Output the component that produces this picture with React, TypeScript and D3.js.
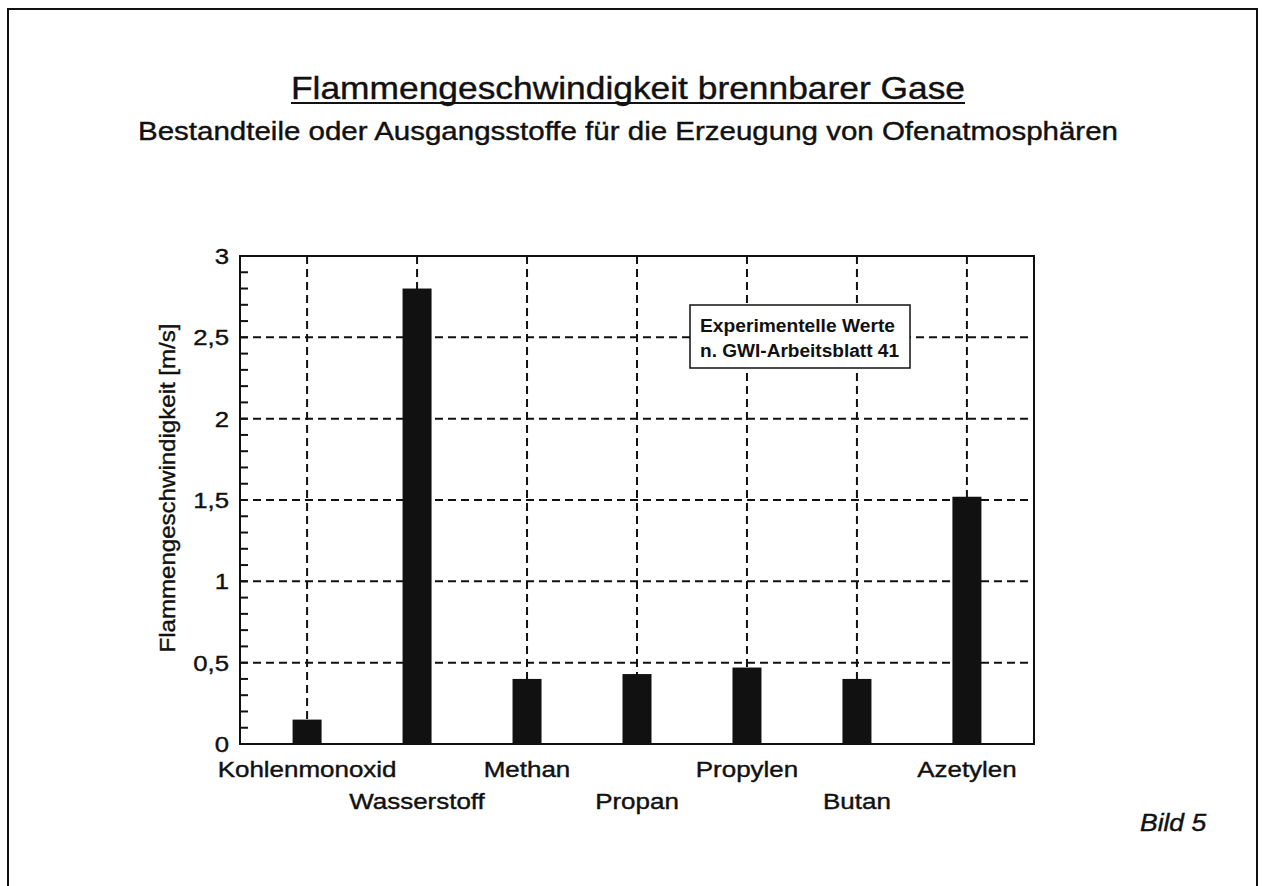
import React from "react";
import * as d3 from "d3";

const categories = ["Kohlenmonoxid", "Wasserstoff", "Methan", "Propan", "Propylen", "Butan", "Azetylen"];
const values = [0.15, 2.8, 0.40, 0.43, 0.47, 0.40, 1.52];
const yTicks = [0, 0.5, 1, 1.5, 2, 2.5, 3];
const titleText = "Flammengeschwindigkeit brennbarer Gase";
const subtitleText = "Bestandteile oder Ausgangsstoffe für die Erzeugung von Ofenatmosphären";
const yLabel = "Flammengeschwindigkeit [m/s]";
const legendLines = ["Experimentelle Werte", "n. GWI-Arbeitsblatt 41"];
const figureLabel = "Bild 5";

const W = 1265;
const H = 886;
const FONT = "'Liberation Sans', Arial, Helvetica, sans-serif";
const INK = "#111";
const TS = { stroke: INK, strokeWidth: 0.4 };

export default function App() {
  const left = 240, right = 1034, top = 256, bottom = 744;
  const x = d3.scalePoint<string>().domain(categories).range([left, right]).padding(0.61);
  const y = d3.scaleLinear().domain([0, 3]).range([bottom, top]);
  const de = d3.formatLocale({ decimal: ",", thousands: ".", grouping: [3], currency: ["", " €"] });
  const fmt = de.format("~g");
  const minor = d3.range(1, 30).map((i) => i / 10);
  const grid = yTicks.filter((t) => t > 0 && t < 3);
  const barW = 29;

  return (
    <svg width={W} height={H} style={{ position: "absolute", left: 0, top: 0, display: "block", background: "#fff" }} fontFamily={FONT}>
      <rect x={0} y={0} width={W} height={H} fill="#fff" />
      {/* page frame */}
      <path d={`M8,${H + 5} L8,9 L1257,9 L1257,${H + 5}`} fill="none" stroke={INK} strokeWidth={2} />

      {/* title */}
      <text x={291} y={99} fontSize={32} fill={INK} {...TS} textLength={674} lengthAdjust="spacingAndGlyphs">{titleText}</text>
      <line x1={291} x2={965} y1={103} y2={103} stroke={INK} strokeWidth={2} />
      <text x={138} y={140} fontSize={25} fill={INK} {...TS} textLength={980} lengthAdjust="spacingAndGlyphs">{subtitleText}</text>

      {/* grid */}
      {grid.map((t) => (
        <line key={"h" + t} x1={left} x2={right} y1={y(t)} y2={y(t)} stroke={INK} strokeWidth={2} strokeDasharray="8 5" />
      ))}
      {categories.map((c) => (
        <line key={"v" + c} x1={x(c)} x2={x(c)} y1={top} y2={bottom} stroke={INK} strokeWidth={2} strokeDasharray="8 5" />
      ))}

      {/* minor ticks */}
      {minor.map((t) => (
        <line key={"m" + t} x1={left} x2={left + 8} y1={y(t)} y2={y(t)} stroke={INK} strokeWidth={2} />
      ))}

      {/* bars */}
      {categories.map((c, i) => (
        <rect key={"b" + c} x={(x(c) as number) - barW / 2} y={y(values[i])} width={barW} height={bottom - y(values[i])} fill={INK} />
      ))}

      {/* plot frame */}
      <rect x={left} y={top} width={right - left} height={bottom - top} fill="none" stroke={INK} strokeWidth={2} />

      {/* y tick labels */}
      {yTicks.map((t) => (
        <text key={"yl" + t} transform={`translate(229,${y(t)}) scale(1.12,1)`} textAnchor="end" dominantBaseline="central" fontSize={23} fill={INK} {...TS}>
          {fmt(t)}
        </text>
      ))}

      {/* y label */}
      <text transform={`translate(175,488) rotate(-90) scale(1.12,1)`} textAnchor="middle" fontSize={21.5} fill={INK} {...TS}>
        {yLabel}
      </text>

      {/* x labels */}
      {categories.map((c, i) => (
        <text key={"xl" + c} transform={`translate(${x(c)},${i % 2 === 0 ? 777 : 809}) scale(1.18,1)`} textAnchor="middle" fontSize={22} fill={INK} {...TS}>
          {c}
        </text>
      ))}

      {/* legend */}
      <rect x={690} y={305} width={220} height={63} fill="#fff" stroke={INK} strokeWidth={1.5} />
      {legendLines.map((l, i) => (
        <text key={"lg" + i} x={700} y={332 + i * 25} fontSize={18} fontWeight="bold" fill={INK} textLength={i === 0 ? 195 : 199} lengthAdjust="spacingAndGlyphs">
          {l}
        </text>
      ))}

      {/* figure label */}
      <text transform="translate(1140,831) scale(1.15,1)" fontSize={23} fontStyle="italic" fill={INK} {...TS}>
        {figureLabel}
      </text>
    </svg>
  );
}
